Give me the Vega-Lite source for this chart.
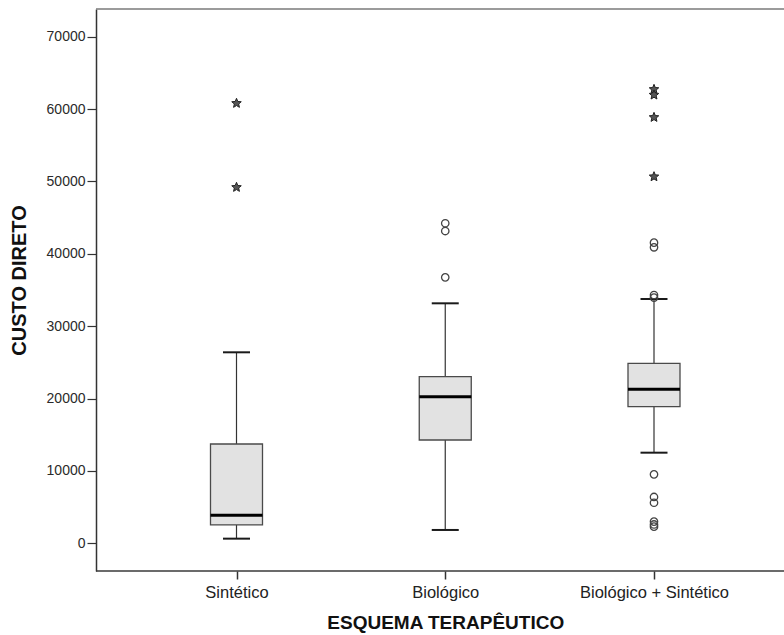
{
  "$schema": "https://vega.github.io/schema/vega-lite/v6.json",
  "autosize": "none",
  "width": 688,
  "height": 562,
  "padding": {"left": 96, "top": 9, "right": 0, "bottom": 64},
  "background": "white",
  "config": {
    "view": {"stroke": null},
    "font": "Liberation Sans"
  },
  "datasets": {
    "frame": [{"pos": "top", "v": 73830}, {"pos": "bottom", "v": -3830}],
    "boxes": [
      {"g": "Sintético", "lw": 640, "q1": 2530, "med": 3870, "q3": 13720, "uw": 26390},
      {"g": "Biológico", "lw": 1840, "q1": 14270, "med": 20260, "q3": 23020, "uw": 33160},
      {"g": "Biológico + Sintético", "lw": 12520, "q1": 18880, "med": 21280, "q3": 24870, "uw": 33760}
    ],
    "outliers": [
      {"g": "Sintético", "v": 60800, "kind": "extreme"},
      {"g": "Sintético", "v": 49190, "kind": "extreme"},
      {"g": "Biológico", "v": 44220, "kind": "outlier"},
      {"g": "Biológico", "v": 43150, "kind": "outlier"},
      {"g": "Biológico", "v": 36750, "kind": "outlier"},
      {"g": "Biológico + Sintético", "v": 62730, "kind": "extreme"},
      {"g": "Biológico + Sintético", "v": 61950, "kind": "extreme"},
      {"g": "Biológico + Sintético", "v": 58860, "kind": "extreme"},
      {"g": "Biológico + Sintético", "v": 50660, "kind": "extreme"},
      {"g": "Biológico + Sintético", "v": 41540, "kind": "outlier"},
      {"g": "Biológico + Sintético", "v": 40900, "kind": "outlier"},
      {"g": "Biológico + Sintético", "v": 34310, "kind": "outlier"},
      {"g": "Biológico + Sintético", "v": 33950, "kind": "outlier"},
      {"g": "Biológico + Sintético", "v": 9530, "kind": "outlier"},
      {"g": "Biológico + Sintético", "v": 6400, "kind": "outlier"},
      {"g": "Biológico + Sintético", "v": 5600, "kind": "outlier"},
      {"g": "Biológico + Sintético", "v": 3000, "kind": "outlier"},
      {"g": "Biológico + Sintético", "v": 2600, "kind": "outlier"},
      {"g": "Biológico + Sintético", "v": 2300, "kind": "outlier"}
    ]
  },
  "layer": [
    {
      "data": {"name": "frame"},
      "mark": {"type": "rule", "strokeWidth": 1.6},
      "encoding": {
        "y": {"field": "v", "type": "quantitative"},
        "color": {"field": "pos", "type": "nominal", "scale": {"domain": ["top", "bottom"], "range": ["#7a7a7a", "#3a3a3a"]}, "legend": null}
      }
    },
    {
      "data": {"name": "boxes"},
      "mark": {"type": "rule", "color": "#333333", "strokeWidth": 1.2},
      "encoding": {
        "x": {
          "field": "g", "type": "nominal",
          "sort": ["Sintético", "Biológico", "Biológico + Sintético"],
          "scale": {"type": "point", "padding": 0, "range": [140.5, 558]},
          "axis": {
            "title": "ESQUEMA TERAPÊUTICO",
            "labelAngle": 0,
            "labelFont": "Liberation Sans",
            "labelFontSize": 16.5,
            "labelColor": "#222222",
            "labelPadding": 5,
            "tickSize": 8,
            "tickColor": "#333333",
            "tickWidth": 1.5,
            "domain": false,
            "titleFont": "Liberation Sans",
            "titleFontSize": 19,
            "titleFontWeight": "bold",
            "titleColor": "#111111",
            "titleBaseline": "middle",
            "titleY": 51
          }
        },
        "y": {
          "field": "lw", "type": "quantitative",
          "scale": {"domain": [-3830, 73830], "nice": false, "zero": false},
          "axis": {
            "title": "CUSTO DIRETO",
            "values": [0, 10000, 20000, 30000, 40000, 50000, 60000, 70000],
            "format": "d",
            "grid": false,
            "labelFont": "Liberation Sans",
            "labelFontSize": 14,
            "labelColor": "#2a2a2a",
            "labelPadding": 2,
            "tickSize": 9,
            "tickColor": "#333333",
            "tickWidth": 1.2,
            "domainColor": "#333333",
            "domainWidth": 1.5,
            "titleFont": "Liberation Sans",
            "titleFontSize": 20,
            "titleFontWeight": "bold",
            "titleColor": "#111111",
            "titleAngle": -90,
            "titleBaseline": "middle",
            "titleAlign": "center",
            "titleX": -77,
            "titleY": 271
          }
        },
        "y2": {"field": "uw"}
      }
    },
    {
      "data": {"name": "boxes"},
      "mark": {"type": "bar", "width": 52, "fill": "#e2e2e2", "stroke": "#4a4a4a", "strokeWidth": 1.3},
      "encoding": {
        "x": {"field": "g", "type": "nominal", "sort": ["Sintético", "Biológico", "Biológico + Sintético"]},
        "y": {"field": "q1", "type": "quantitative"},
        "y2": {"field": "q3"}
      }
    },
    {
      "data": {"name": "boxes"},
      "mark": {"type": "tick", "size": 52, "thickness": 3, "color": "#000000", "opacity": 1},
      "encoding": {
        "x": {"field": "g", "type": "nominal", "sort": ["Sintético", "Biológico", "Biológico + Sintético"]},
        "y": {"field": "med", "type": "quantitative"}
      }
    },
    {
      "data": {"name": "boxes"},
      "mark": {"type": "tick", "size": 27, "thickness": 2, "color": "#1a1a1a", "opacity": 1},
      "encoding": {
        "x": {"field": "g", "type": "nominal", "sort": ["Sintético", "Biológico", "Biológico + Sintético"]},
        "y": {"field": "lw", "type": "quantitative"}
      }
    },
    {
      "data": {"name": "boxes"},
      "mark": {"type": "tick", "size": 27, "thickness": 2, "color": "#1a1a1a", "opacity": 1},
      "encoding": {
        "x": {"field": "g", "type": "nominal", "sort": ["Sintético", "Biológico", "Biológico + Sintético"]},
        "y": {"field": "uw", "type": "quantitative"}
      }
    },
    {
      "data": {"name": "outliers"},
      "transform": [{"filter": "datum.kind === 'outlier'"}],
      "mark": {"type": "point", "shape": "circle", "size": 55, "filled": false, "stroke": "#444444", "strokeWidth": 1.3, "opacity": 1},
      "encoding": {
        "x": {"field": "g", "type": "nominal", "sort": ["Sintético", "Biológico", "Biológico + Sintético"]},
        "y": {"field": "v", "type": "quantitative"}
      }
    },
    {
      "data": {"name": "outliers"},
      "transform": [{"filter": "datum.kind === 'extreme'"}],
      "mark": {"type": "point", "shape": "M0,-1L0.26,-0.36L0.95,-0.31L0.43,0.14L0.59,0.81L0,0.45L-0.59,0.81L-0.43,0.14L-0.95,-0.31L-0.26,-0.36Z", "size": 100, "filled": true, "fill": "#555555", "stroke": "#222222", "strokeWidth": 1, "opacity": 1},
      "encoding": {
        "x": {"field": "g", "type": "nominal", "sort": ["Sintético", "Biológico", "Biológico + Sintético"]},
        "y": {"field": "v", "type": "quantitative"}
      }
    }
  ]
}
